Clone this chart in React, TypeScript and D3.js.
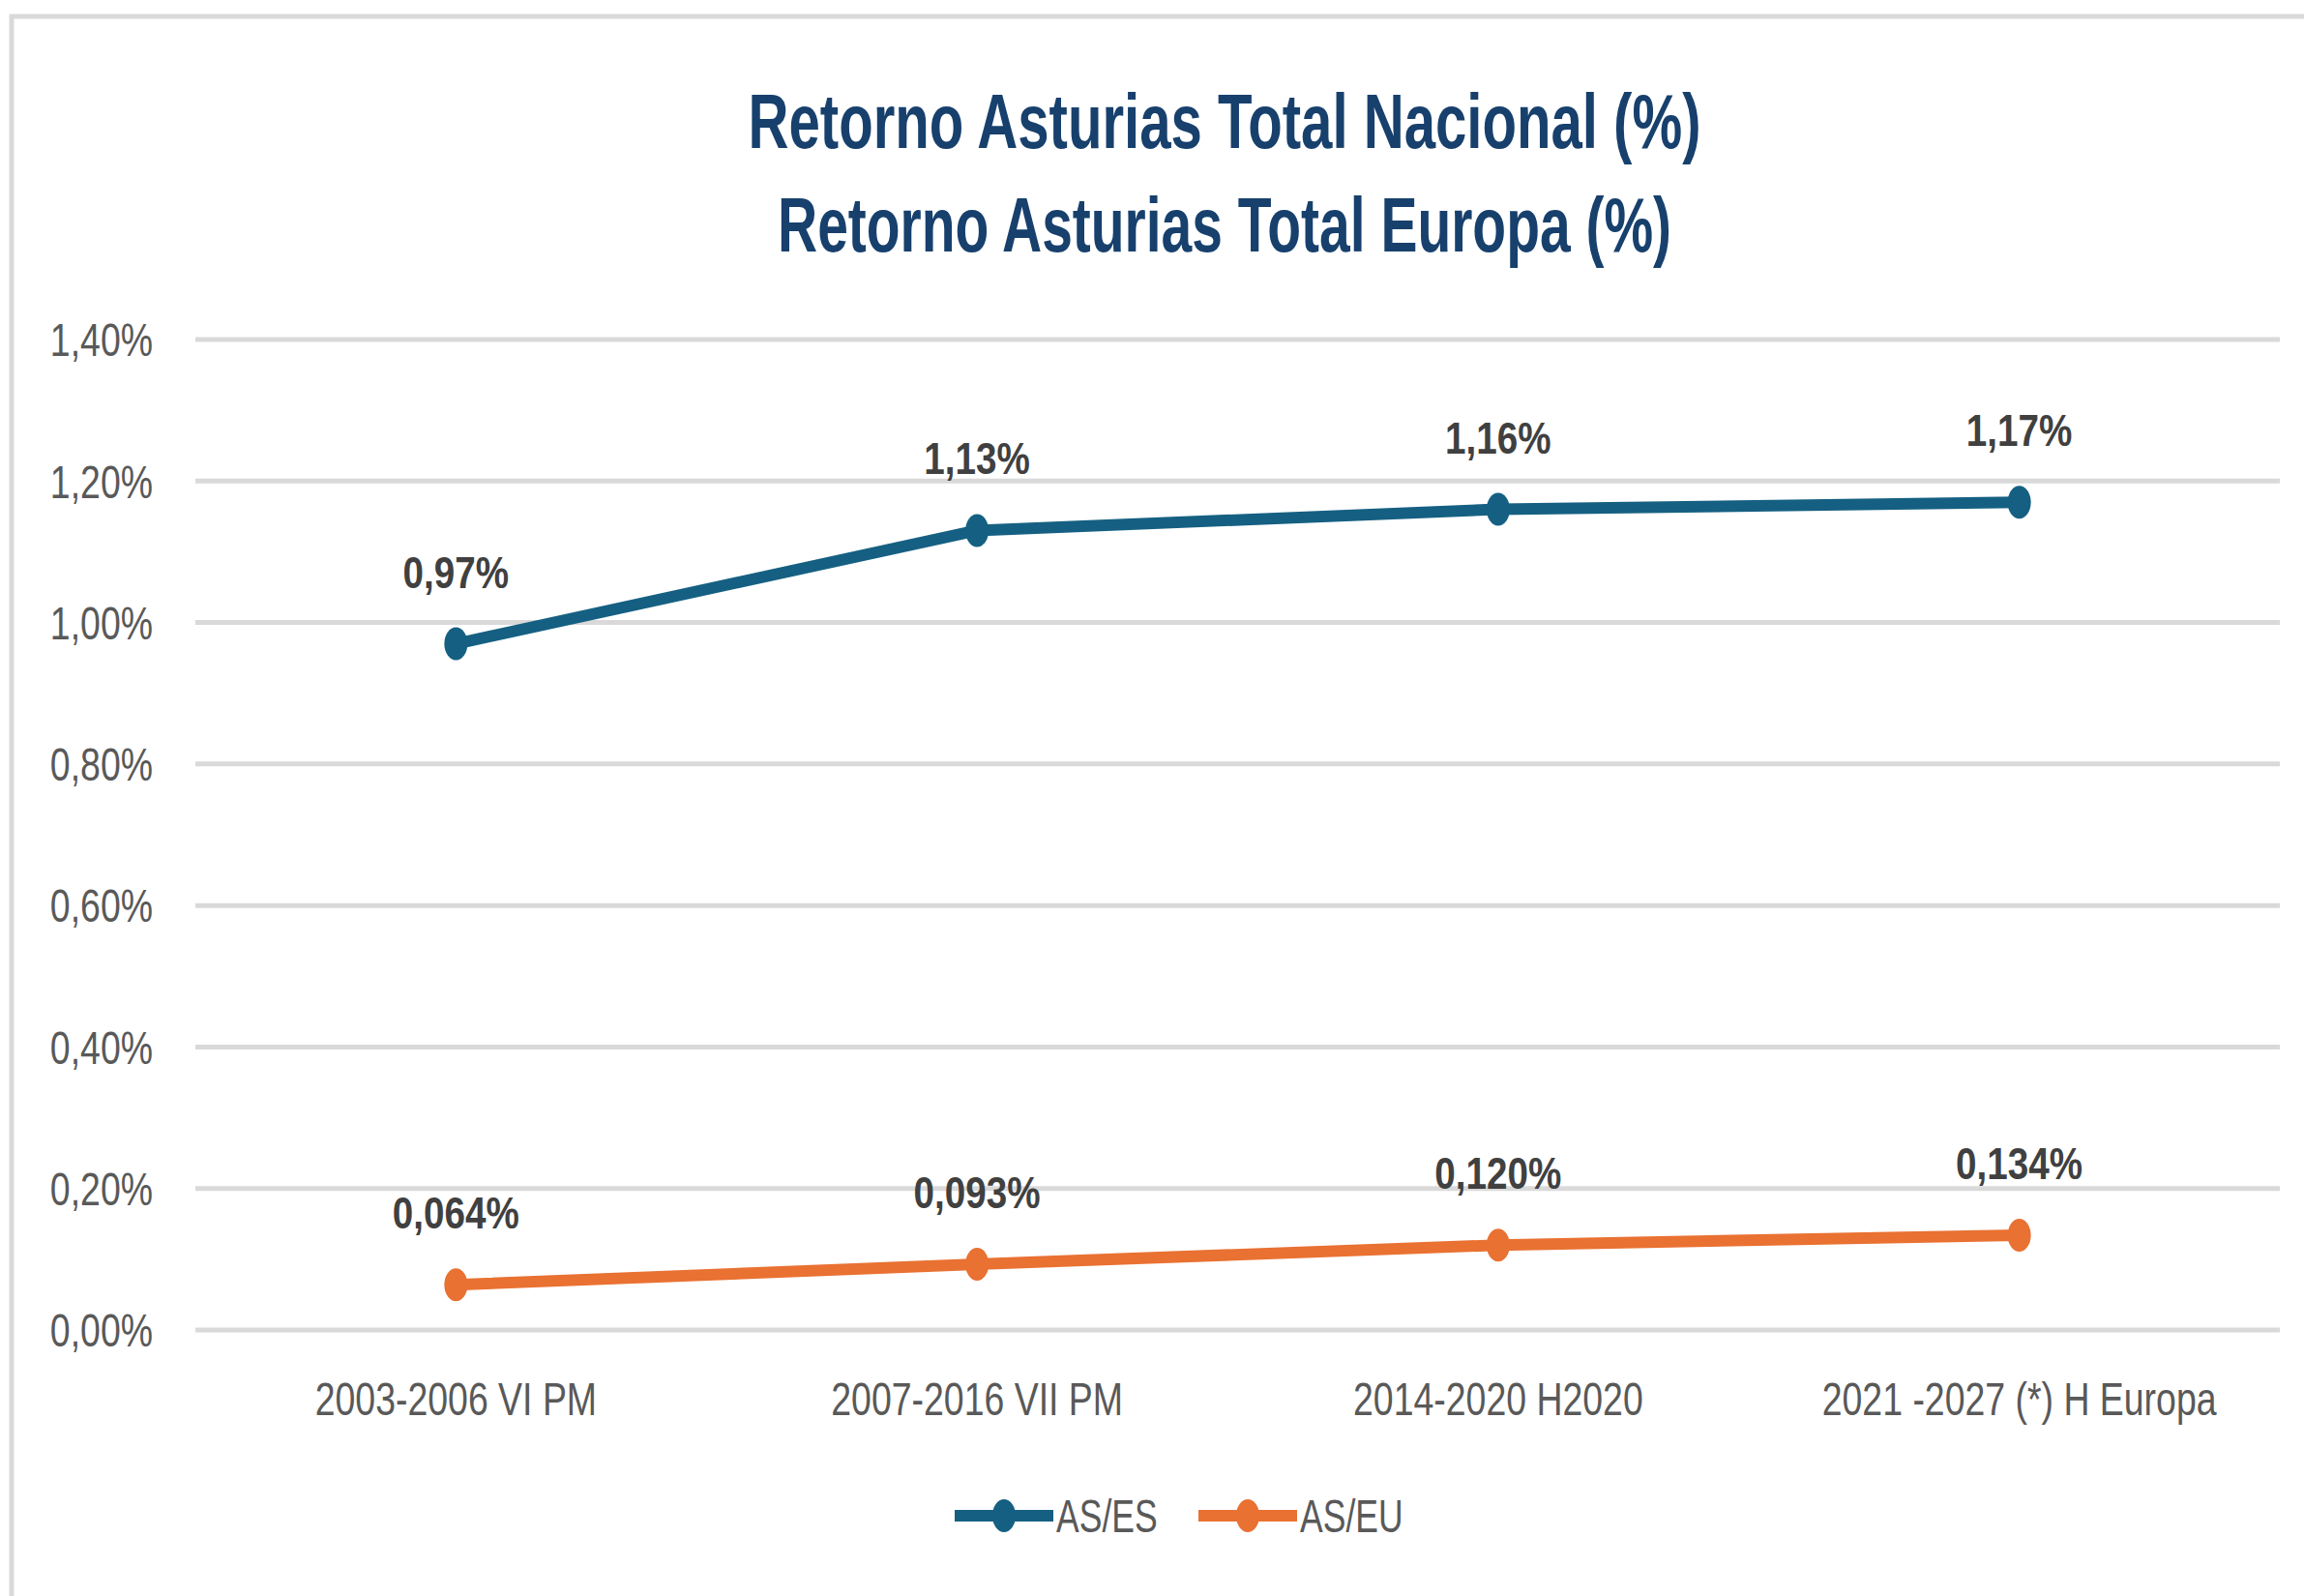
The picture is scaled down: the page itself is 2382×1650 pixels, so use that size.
import React from 'react';
import * as d3 from 'd3';

const W = 2382;
const H = 1650;

const categories = ['2003-2006 VI PM', '2007-2016 VII PM', '2014-2020 H2020', '2021 -2027 (*) H Europa'];
const seriesNames = ['AS/ES', 'AS/EU'];
const asEs = [0.97, 1.13, 1.16, 1.17];
const asEu = [0.064, 0.093, 0.12, 0.134];
const asEsLabels = ['0,97%', '1,13%', '1,16%', '1,17%'];
const asEuLabels = ['0,064%', '0,093%', '0,120%', '0,134%'];
const yTicks = [0, 0.2, 0.4, 0.6, 0.8, 1.0, 1.2, 1.4];
const titleLines = ['Retorno Asturias Total Nacional (%)', 'Retorno Asturias Total Europa (%)'];

const colors = ['#156082', '#e97132'];
const FONT = "'Liberation Sans', Arial, sans-serif";
const SQ = 0.78; // horizontal squeeze of the text

const App: React.FC = () => {
  const margin = { top: 351, right: 25, bottom: 275, left: 202 };

  const x = d3.scaleBand<string>()
    .domain(categories)
    .range([margin.left, W - margin.right]);

  const y = d3.scaleLinear()
    .domain([0, 1.4])
    .range([H - margin.bottom, margin.top]);

  const cx = (c: string) => (x(c) ?? 0) + x.bandwidth() / 2;

  const line = d3.line<number>()
    .x((_, i) => cx(categories[i]))
    .y(d => y(d));

  const series = [
    { name: seriesNames[0], values: asEs, labels: asEsLabels, color: colors[0] },
    { name: seriesNames[1], values: asEu, labels: asEuLabels, color: colors[1] },
  ];

  const fmt = (v: number) => d3.format('.2f')(v).replace('.', ',') + '%';

  return (
    <svg width={W} height={H} style={{ position: 'absolute', left: 0, top: 0, background: '#fff' }}>
      {/* marco */}
      <rect x={12} y={17} width={W + 100} height={H + 100} fill="#fff" stroke="#d9d9d9" strokeWidth={5} />

      {/* titulo */}
      <text x={1266} y={153} textAnchor="middle" fontFamily={FONT} fontWeight="bold" fontSize={80}
        fill="#17406d" textLength={985} lengthAdjust="spacingAndGlyphs">{titleLines[0]}</text>
      <text x={1266} y={260} textAnchor="middle" fontFamily={FONT} fontWeight="bold" fontSize={80}
        fill="#17406d" textLength={924} lengthAdjust="spacingAndGlyphs">{titleLines[1]}</text>

      {/* rejilla y eje Y */}
      {yTicks.map(t => (
        <g key={t}>
          <line x1={margin.left} x2={W - margin.right} y1={y(t)} y2={y(t)} stroke="#d9d9d9" strokeWidth={5} />
          <text transform={`translate(158,${y(t)}) scale(${SQ},1)`} dy="0.36em" textAnchor="end"
            fontFamily={FONT} fontSize={48} fill="#595959">{fmt(t)}</text>
        </g>
      ))}

      {/* eje X */}
      {categories.map(c => (
        <text key={c} transform={`translate(${cx(c)},1463) scale(${SQ},1)`} textAnchor="middle"
          fontFamily={FONT} fontSize={48} fill="#595959">{c}</text>
      ))}

      {/* series */}
      {series.map(s => (
        <g key={s.name}>
          <path d={line(s.values) ?? ''} fill="none" stroke={s.color} strokeWidth={12} strokeLinejoin="round" />
          {s.values.map((v, i) => (
            <ellipse key={i} cx={cx(categories[i])} cy={y(v)} rx={12} ry={17} fill={s.color} />
          ))}
          {s.values.map((v, i) => (
            <text key={'l' + i} transform={`translate(${cx(categories[i])},${y(v) - 58}) scale(0.84,1)`}
              textAnchor="middle" fontFamily={FONT} fontSize={46} fontWeight="bold" fill="#404040">
              {s.labels[i]}
            </text>
          ))}
        </g>
      ))}

      {/* leyenda */}
      {series.map((s, i) => {
        const lx = 987 + i * 252;
        return (
          <g key={'leg' + s.name}>
            <line x1={lx} x2={lx + 102} y1={1567} y2={1567} stroke={s.color} strokeWidth={12} />
            <ellipse cx={lx + 51} cy={1567} rx={12} ry={17} fill={s.color} />
            <text transform={`translate(${lx + 105},1584) scale(0.74,1)`} fontFamily={FONT} fontSize={48}
              fill="#595959">{s.name}</text>
          </g>
        );
      })}
    </svg>
  );
};

export default App;
